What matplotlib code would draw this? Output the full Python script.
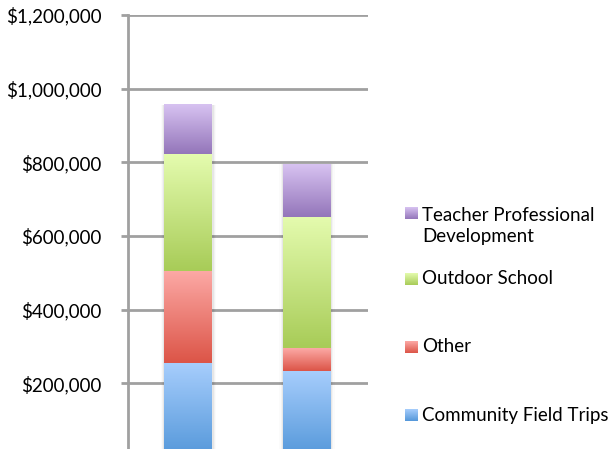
import numpy as np
import matplotlib.pyplot as plt
from matplotlib.colors import LinearSegmentedColormap
from matplotlib.patches import Rectangle
from matplotlib.ticker import FuncFormatter

plt.rcParams['font.family'] = ['Lato', 'DejaVu Sans']

# data
groups = ['A', 'B']
series = ['Community Field Trips', 'Other', 'Outdoor School', 'Teacher Professional\nDevelopment']
community = [255000, 233000]
other = [251000, 62000]
outdoor = [316000, 357000]
teacher = [135000, 143000]
values = [community, other, outdoor, teacher]

# light (top) -> dark (bottom) for each series
shades = [('#a6cdfc', '#5598da'),
          ('#fca9a5', '#dc5548'),
          ('#e4fbae', '#a8cc58'),
          ('#d7c2f1', '#9476ba')]

fig = plt.figure(figsize=(6.13, 4.49), dpi=100)
ax = fig.add_axes([128/613, (449-457)/449, 240/613, (457-15)/449])

x = np.arange(len(groups))
width = 0.405
grad = np.linspace(0, 1, 64).reshape(-1, 1)

bottom = np.zeros(len(groups))
for vals, (top_c, bot_c) in zip(values, shades):
    cmap = LinearSegmentedColormap.from_list('g', [bot_c, top_c])
    for i in range(len(groups)):
        ax.imshow(grad, cmap=cmap, origin='lower', aspect='auto', zorder=3,
                  extent=[x[i]-width/2, x[i]+width/2, bottom[i], bottom[i]+vals[i]])
    bottom += np.array(vals)

# soft shadow round the bars
for i in range(len(groups)):
    for k, a in enumerate([0.05, 0.03, 0.015]):
        d = 0.01*(k+1)
        ax.add_patch(Rectangle((x[i]-width/2-d, 0), width+2*d, bottom[i],
                               facecolor='black', alpha=a, lw=0, zorder=2))

ax.set_xlim(-0.51, 1.515)
ax.set_ylim(0, 1200000)
ax.set_yticks([200000, 400000, 600000, 800000, 1000000, 1200000])
ax.yaxis.set_major_formatter(FuncFormatter(lambda v, p: '${:,.0f}'.format(v)))
ax.set_xticks([])
ax.grid(axis='y', color='#a0a0a0', lw=2, zorder=1)
for s in ['top', 'right', 'bottom']:
    ax.spines[s].set_visible(False)
ax.spines['left'].set_color('#a0a0a0')
ax.spines['left'].set_linewidth(2)
ax.tick_params(axis='y', length=5, width=2, color='#a0a0a0', pad=14, labelsize=13.5, labelcolor='#000000')

# legend drawn in pixel space
ov = fig.add_axes([0, 0, 1, 1])
leg_y = [415, 347, 279, 226]
box_y = [415, 347, 279, 213]
for name, (top_c, bot_c), ty, by in zip(series, shades, leg_y, box_y):
    cmap = LinearSegmentedColormap.from_list('g', [bot_c, top_c])
    ov.imshow(grad, cmap=cmap, origin='lower', aspect='auto',
              extent=[405, 418, by+6, by-6])
    ov.text(422, ty, name, fontsize=13.5, va='center', ha='left', color='#000000',
            linespacing=1.35)
ov.set_xlim(0, 613)
ov.set_ylim(449, 0)
ov.axis('off')

fig.savefig('out.png', dpi=100)
